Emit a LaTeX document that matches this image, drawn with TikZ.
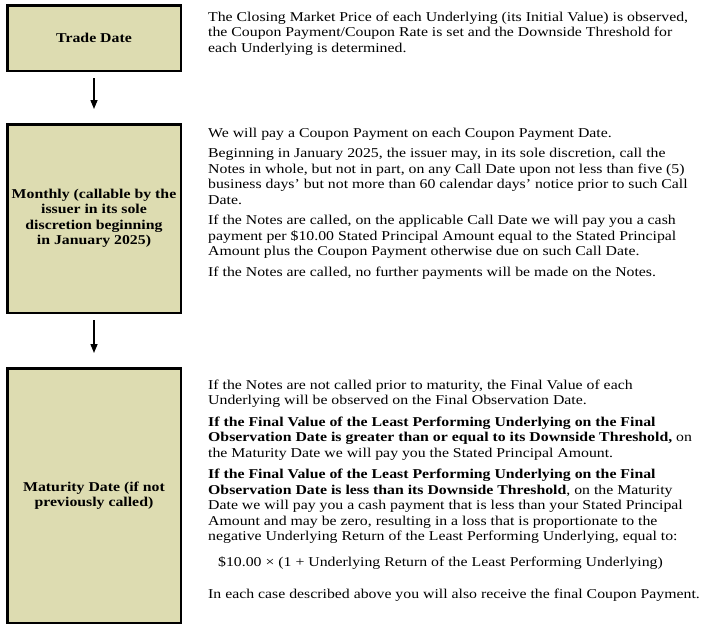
\documentclass[tikz,border=0pt]{standalone}
\usepackage{fontspec}
\setmainfont[FakeStretch=1.17]{Liberation Serif}
\usetikzlibrary{arrows.meta}
\definecolor{boxfill}{RGB}{221,220,177}
\begin{document}
\begin{tikzpicture}[x=1pt,y=-1pt,
  stagebox/.style={draw=black, line width=2.5pt, fill=boxfill, minimum width=173.5pt, inner sep=0pt, align=center, font=\fontsize{13.5}{15.5}\selectfont\bfseries},
  body/.style={anchor=base west, inner sep=0pt, font=\fontsize{13.5}{15.5}\selectfont},
  flow/.style={line width=1.4pt, -{Triangle[width=7pt,length=9pt]}}]
\useasboundingbox (0,0) rectangle (705,625);
\node[stagebox, minimum height=65.5pt] (b1) at (94,38) {Trade Date};
\node[stagebox, minimum height=188.5pt] (b2) at (94,218.5) {Monthly (callable by the\\issuer in its sole\\discretion beginning\\in January 2025)};
\node[stagebox, minimum height=254.5pt] (b3) at (94,495.5) {Maturity Date (if not\\previously called)};
\draw[flow, shorten <=6pt, shorten >=14pt] (b1) -- (b2);
\draw[flow, shorten <=6pt, shorten >=14pt] (b2) -- (b3);
\node[body] (t1) at (208,21) {\begin{tabular}[t]{@{}l@{}}
The Closing Market Price of each Underlying (its Initial Value) is observed,\\
the Coupon Payment/Coupon Rate is set and the Downside Threshold for\\
each Underlying is determined.
\end{tabular}};
\node[body] (t2) at (208,137) {\begin{tabular}[t]{@{}l@{}}
We will pay a Coupon Payment on each Coupon Payment Date.\\[5pt]
Beginning in January 2025, the issuer may, in its sole discretion, call the\\
Notes in whole, but not in part, on any Call Date upon not less than five (5)\\
business days’ but not more than 60 calendar days’ notice prior to such Call\\
Date.\\[5pt]
If the Notes are called, on the applicable Call Date we will pay you a cash\\
payment per \$10.00 Stated Principal Amount equal to the Stated Principal\\
Amount plus the Coupon Payment otherwise due on such Call Date.\\[5pt]
If the Notes are called, no further payments will be made on the Notes.
\end{tabular}};
\node[body] (t3) at (208,389) {\begin{tabular}[t]{@{}l@{}}
If the Notes are not called prior to maturity, the Final Value of each\\
Underlying will be observed on the Final Observation Date.\\[6pt]
\textbf{If the Final Value of the Least Performing Underlying on the Final}\\
\textbf{Observation Date is greater than or equal to its Downside Threshold,} on\\
the Maturity Date we will pay you the Stated Principal Amount.\\[6pt]
\textbf{If the Final Value of the Least Performing Underlying on the Final}\\
\textbf{Observation Date is less than its Downside Threshold}, on the Maturity\\
Date we will pay you a cash payment that is less than your Stated Principal\\
Amount and may be zero, resulting in a loss that is proportionate to the\\
negative Underlying Return of the Least Performing Underlying, equal to:\\[10pt]
\hspace*{10pt}\$10.00 × (1 + Underlying Return of the Least Performing Underlying)\\[17pt]
In each case described above you will also receive the final Coupon Payment.
\end{tabular}};
\end{tikzpicture}
\end{document}
